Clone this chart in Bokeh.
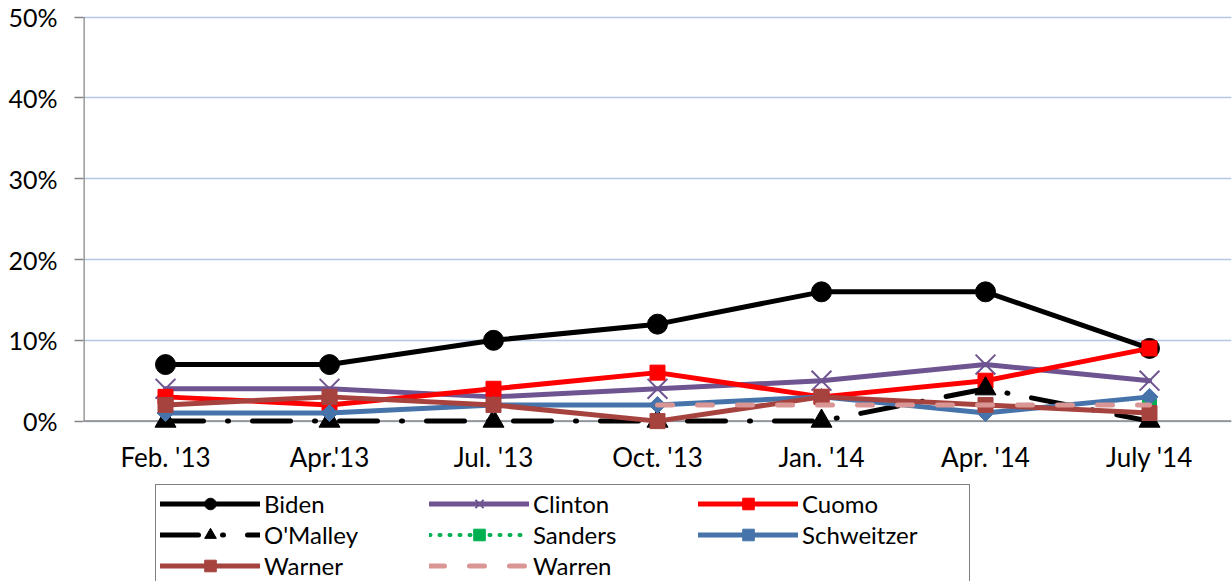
import math
from bokeh.plotting import figure
from bokeh.models import (Legend, LegendItem, Range1d, FixedTicker, PrintfTickFormatter, Span)
from bokeh.core.properties import value
from bokeh.embed import file_html
from bokeh.resources import INLINE

NaN = float("nan")

# ---------------- data (percent) ----------------
periods = ["Feb. '13", "Apr.'13", "Jul. '13", "Oct. '13", "Jan. '14", "Apr. '14", "July '14"]
biden = [7, 7, 10, 12, 16, 16, 9]
clinton = [4, 4, 3, 4, 5, 7, 5]
cuomo = [3, 2, 4, 6, 3, 5, 9]
omalley = [0, 0, 0, 0, 0, 4, 0]
sanders = [NaN, NaN, NaN, NaN, NaN, NaN, 2]
schweitzer = [1, 1, 2, 2, 3, 1, 3]
warner = [2, 3, 2, 0, 3, 2, 1]
warren = [NaN, NaN, NaN, 2, 2, 2, 2]
y_ticks = [0, 10, 20, 30, 40, 50]

FONT = "Lato"
AXIS_GRAY = "#868686"

xs = [i + 0.5 for i in range(len(periods))]

# frame extends to the bottom of the canvas so the legend below the axis is not clipped
p = figure(width=1232, height=581, output_backend="svg", toolbar_location=None,
           x_range=Range1d(0, len(periods)), y_range=Range1d(-19.85, 50.2),
           x_axis_location=None,
           min_border_left=83, min_border_right=1, min_border_top=15, min_border_bottom=0)
p.outline_line_color = None
p.background_fill_color = "white"
p.border_fill_color = "white"

# grid
p.xgrid.grid_line_color = None
p.ygrid.ticker = FixedTicker(ticks=y_ticks)
p.ygrid.grid_line_color = "#B4C8E6"
p.ygrid.grid_line_width = 1.5

# y axis
p.yaxis.ticker = FixedTicker(ticks=y_ticks)
p.yaxis.formatter = PrintfTickFormatter(format="%d%%")
p.yaxis.axis_line_color = None
p.yaxis.major_tick_line_color = AXIS_GRAY
p.yaxis.major_tick_line_width = 1.5
p.yaxis.major_tick_out = 9
p.yaxis.major_tick_in = 0
p.yaxis.minor_tick_line_color = None
p.yaxis.major_label_text_font = FONT
p.yaxis.major_label_text_font_size = "25px"
p.yaxis.major_label_text_color = "black"
p.yaxis.major_label_standoff = 17

# axis lines (at 0 and at left edge)
p.add_layout(Span(location=y_ticks[0], dimension="width", line_color=AXIS_GRAY, line_width=1.5,
                  level="underlay"))
p.segment(x0=[0], y0=[y_ticks[0]], x1=[0], y1=[y_ticks[-1]], line_color=AXIS_GRAY, line_width=2.5)

# category labels under the 0% line
p.text(x=xs, y=[y_ticks[0]] * len(xs), text=periods, y_offset=20,
       text_align="center", text_baseline="top",
       text_font=value(FONT), text_font_size="26px", text_color="black")

items = []

def add_series(name, vals, color, width=5, dash="solid", cap="round", marker=None,
               size=14, angle=0.0, mline=1, mfill=True):
    rs = []
    lr = p.line(xs, vals, line_color=color, line_width=width, line_dash=dash,
                line_cap=cap, line_join="round")
    rs.append(lr)
    if marker is not None:
        sr = p.scatter(xs, vals, marker=marker, size=size, angle=angle,
                       fill_color=color if mfill else None, line_color=color,
                       line_width=mline)
        rs.append(sr)
    items.append(LegendItem(label=name, renderers=rs))

add_series("Biden", biden, "black", marker="circle", size=20)
add_series("Clinton", clinton, "#6E5490", marker="x", size=28, mline=2, mfill=False)
add_series("Cuomo", cuomo, "#FF0000", marker="square", size=15)
add_series("O'Malley", omalley, "black", dash="38 24 1 24", marker="triangle", size=21)
add_series("Sanders", sanders, "#00B050", width=4, dash="1 9", marker="square", size=14)
add_series("Schweitzer", schweitzer, "#4674AA", marker="square", size=12, angle=math.pi / 4)
add_series("Warner", warner, "#A6433F", marker="square", size=15)
add_series("Warren", warren, "#D99694", dash="15 25")

legend = Legend(items=items, location=(72, -4), orientation="horizontal", ncols=3,
                label_text_font=FONT, label_text_font_size="24px", label_text_color="black",
                glyph_width=100, glyph_height=29, label_height=29, label_width=163,
                label_standoff=4, spacing=2, padding=4, margin=0,
                border_line_color="black", border_line_width=1.5,
                background_fill_color="white", background_fill_alpha=1.0)
p.add_layout(legend, "center")

open("out.html", "w").write(file_html(p, INLINE))
